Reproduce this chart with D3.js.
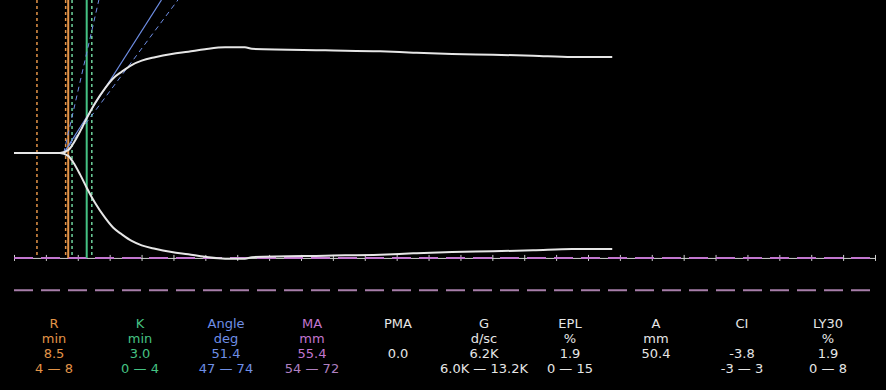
<!DOCTYPE html>
<html>
<head>
<meta charset="utf-8">
<script src="https://cdn.jsdelivr.net/npm/d3@7"></script>
<style>
  html, body { margin: 0; padding: 0; background: #000; }
  svg { display: block; }
</style>
</head>
<body>
<div id="teg"></div>
<script>
// data
// trace: time (min) and total amplitude (mm)
const traceTime = [0, 7.2, 8.5, 9.3, 10.35, 11.4, 12.7, 14.27, 15.57, 16.89, 18.45, 20.02, 22.11, 24.73, 27.33, 29.95, 33.1, 36.2, 37.3, 48.8, 57.4, 62.6, 68.7, 75.1, 81.4, 87.5, 93.8];
const traceAmp  = [0, 0,   1.5, 5.0, 11.2,  18.2, 26.1, 33.9,  39.2,  42.6,  46.1,  48.4,  50.2,  51.9,  53.1,  54.4,  55.4, 55.4, 54.6, 53.8, 53.3, 52.6, 51.9, 51.5, 51.0, 50.3, 50.3];

// vertical markers (min)
const rTime = 8.5;
const rRange = [3.6, 8.1];
const kTime = 11.4;
const kRange = [9.1, 12.2];
// angle lines (deg), drawn from the split point
const angleOrigin = 7.8;
const angleValue = 51.4;
const angleRange = [47, 74];
// MA range (mm)
const maRange = [54, 72];
const timeMax = 135;
const tickStep = 5;

// table
const paramNames  = ["R", "K", "Angle", "MA", "PMA", "G", "EPL", "A", "CI", "LY30"];
const paramUnits  = ["min", "min", "deg", "mm", "", "d/sc", "%", "mm", "", "%"];
const paramValues = ["8.5", "3.0", "51.4", "55.4", "0.0", "6.2K", "1.9", "50.4", "-3.8", "1.9"];
const paramRanges = ["4 \u2014 8", "0 \u2014 4", "47 \u2014 74", "54 \u2014 72", "", "6.0K \u2014 13.2K", "0 \u2014 15", "", "-3 \u2014 3", "0 \u2014 8"];

// config
const width = 886;
const height = 390;
const centerY = 153;
const orange = "#e39448";
const green = "#45c283";
const blue = "#6f8fe6";
const purple = "#c276cf";
const white = "#e6e6e6";
const textColor = {R: orange, K: green, Angle: blue, MA: purple};

const x = d3.scaleLinear().domain([0, timeMax]).range([14, 875]);
const yUp = d3.scaleLinear().domain([0, 55.4]).range([centerY, 47.3]);
const yDown = d3.scaleLinear().domain([0, 55.4]).range([centerY, 258.7]);
const axisY = yDown(55);

const svg = d3.select("#teg")
  .append("svg")
  .attr("width", width)
  .attr("height", height)
  .style("background-color", "#000");

// time axis with 5 min ticks
const axis = d3.axisBottom(x)
  .tickValues(d3.range(0, timeMax + 0.1, tickStep))
  .tickSize(6)
  .tickSizeOuter(0)
  .tickFormat("");
svg.append("g")
  .attr("transform", `translate(0,${axisY - 3})`)
  .call(axis)
  .call(g => g.select(".domain").attr("stroke", "#cfcfcf").attr("transform", "translate(0,3)"))
  .call(g => g.selectAll(".tick line").attr("stroke", "#cfcfcf"));

// MA range lines
svg.selectAll("line.ma")
  .data(maRange)
  .enter().append("line")
  .attr("class", "ma")
  .attr("x1", x(0))
  .attr("x2", x(timeMax))
  .attr("y1", (d, i) => i === 0 ? axisY : yDown(d))
  .attr("y2", (d, i) => i === 0 ? axisY : yDown(d))
  .attr("stroke", (d, i) => i === 0 ? purple : "#a77ea9")
  .attr("stroke-width", 2)
  .attr("stroke-dasharray", "19,8");

// vertical markers
const markers = [
  {t: rRange[0], color: orange, dash: "3,3", w: 1.5},
  {t: rRange[1], color: orange, dash: "3,3", w: 1.5},
  {t: rTime, color: orange, dash: null, w: 2},
  {t: kRange[0], color: "#6fd39d", dash: "3,3", w: 1.5},
  {t: kTime, color: green, dash: null, w: 2},
  {t: kRange[1], color: "#6fd39d", dash: "3,3", w: 1.5}
];
svg.selectAll("line.marker")
  .data(markers)
  .enter().append("line")
  .attr("class", "marker")
  .attr("x1", d => x(d.t))
  .attr("x2", d => x(d.t))
  .attr("y1", 0)
  .attr("y2", axisY)
  .attr("stroke", d => d.color)
  .attr("stroke-width", d => d.w)
  .attr("stroke-dasharray", d => d.dash);

// angle lines: pixel slope = tan(angle) * aspect
const aspect = 1.25;
const ox = x(angleOrigin);
const angleLines = [
  {a: angleRange[0], dash: "5,4", w: 1},
  {a: angleRange[1], dash: "5,4", w: 1},
  {a: angleValue, dash: null, w: 1.2}
];
svg.selectAll("line.angle")
  .data(angleLines)
  .enter().append("line")
  .attr("class", "angle")
  .attr("x1", ox)
  .attr("y1", centerY)
  .attr("x2", d => ox + centerY / (Math.tan(d.a * Math.PI / 180) * aspect))
  .attr("y2", 0)
  .attr("stroke", blue)
  .attr("stroke-width", d => d.w)
  .attr("stroke-dasharray", d => d.dash);

// trace, both halves
const trace = traceTime.map((t, i) => ({t: t, a: traceAmp[i]}));
const upper = d3.line().x(d => x(d.t)).y(d => yUp(d.a)).curve(d3.curveMonotoneX);
const lower = d3.line().x(d => x(d.t)).y(d => yDown(d.a)).curve(d3.curveMonotoneX);
[upper, lower].forEach(gen => {
  svg.append("path")
    .datum(trace)
    .attr("d", gen)
    .attr("fill", "none")
    .attr("stroke", white)
    .attr("stroke-width", 2);
});

// parameter table
const col = d3.scalePoint().domain(paramNames).range([54, 828]);
const rows = [paramNames, paramUnits, paramValues, paramRanges];
const rowY = [328, 343, 358, 373];
rows.forEach((row, r) => {
  svg.append("g").selectAll("text")
    .data(row)
    .enter().append("text")
    .attr("x", (d, i) => col(paramNames[i]))
    .attr("y", rowY[r])
    .attr("text-anchor", "middle")
    .attr("font-family", "DejaVu Sans, sans-serif")
    .attr("font-size", 13)
    .attr("fill", (d, i) => {
      const name = paramNames[i];
      if (name === "MA" && r === 3) return "#b080c0";
      return textColor[name] || white;
    })
    .text(d => d);
});
</script>
</body>
</html>
